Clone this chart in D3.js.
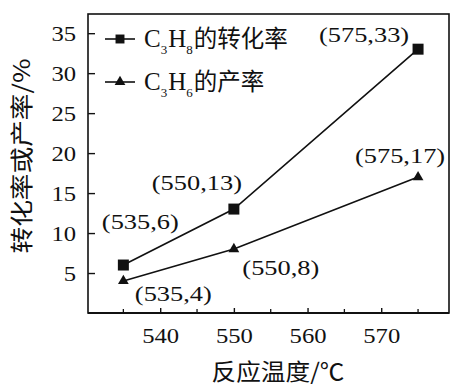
<!DOCTYPE html>
<html><head><meta charset="utf-8">
<script src="https://cdn.jsdelivr.net/npm/d3@7"></script>
<style>body{margin:0;background:#fff}</style>
</head><body>
<svg id="c" width="451" height="386"></svg>
<script>
const temps = [535, 550, 575];
const conversion = [6, 13, 33];   // C3H8 转化率
const yieldC3H6 = [4, 8, 17];     // C3H6 产率
const xTicks = [540, 550, 560, 570];
const xMinorTicks = [535, 540, 545, 550, 555, 560, 565, 570, 575];
const yTicks = [5, 10, 15, 20, 25, 30, 35];
const seriesNames = [["C","3","H","8","的转化率"], ["C","3","H","6","的产率"]];
const xTitle = "反应温度/℃";
const yTitle = "转化率或产率/%";

const LAT = "'Liberation Serif', 'Times New Roman', serif";
const CJK = "'Noto Sans CJK SC', sans-serif";
const svg = d3.select("#c");
const L = 88, R = 449, T = 14, B = 313;
const x = d3.scaleLinear().domain([530.2, 579.2]).range([L, R]);
const y = d3.scaleLinear().domain([0, 37.4]).range([B, T]);

// frame
svg.append("rect").attr("x", L).attr("y", T).attr("width", R - L).attr("height", B - T)
  .attr("fill", "none").attr("stroke", "#111").attr("stroke-width", 1.6);

// x axis
const gx = svg.append("g").attr("transform", `translate(0,${B})`)
  .call(d3.axisBottom(x).tickValues(xTicks).tickSize(-5).tickPadding(14).tickFormat(d3.format("d")));
gx.select(".domain").remove();
gx.selectAll("text").attr("font-family", LAT).attr("font-size", 22).attr("fill", "#111").attr("class","tick-lat");
gx.selectAll("line").attr("stroke", "#111").attr("stroke-width", 1.4);
svg.append("g").selectAll("line").data(xMinorTicks.filter(d => !xTicks.includes(d))).join("line")
  .attr("x1", d => x(d)).attr("x2", d => x(d)).attr("y1", B).attr("y2", B - 4)
  .attr("stroke", "#111").attr("stroke-width", 1.3);
svg.append("line").attr("x1", L).attr("x2", R).attr("y1", B).attr("y2", B).attr("stroke", "#111").attr("stroke-width", 2.2);

// y axis
const gy = svg.append("g").attr("transform", `translate(${L},0)`)
  .call(d3.axisLeft(y).tickValues(yTicks).tickSize(-7).tickPadding(12));
gy.select(".domain").remove();
gy.selectAll("text").attr("font-family", LAT).attr("font-size", 22).attr("fill", "#111").attr("class","tick-lat");
gy.selectAll("line").attr("stroke", "#111").attr("stroke-width", 1.4);

// lines
const line = d3.line().x(d => x(d[0])).y(d => y(d[1]));
const s1 = temps.map((t, i) => [t, conversion[i]]);
const s2 = temps.map((t, i) => [t, yieldC3H6[i]]);
[s1, s2].forEach(s => svg.append("path").attr("d", line(s)).attr("fill", "none")
  .attr("stroke", "#111").attr("stroke-width", 1.6));

const sq = d3.symbol().type(d3.symbolSquare).size(121);
const tri = d3.symbol().type(d3.symbolTriangle).size(50);
svg.append("g").selectAll("path").data(s1).join("path")
  .attr("d", sq).attr("transform", d => `translate(${x(d[0])},${y(d[1])})`).attr("fill", "#111");
svg.append("g").selectAll("path").data(s2).join("path")
  .attr("d", tri).attr("transform", d => `translate(${x(d[0])},${y(d[1])})`).attr("fill", "#111");

// point annotations
const offs1 = [[17, -36], [-37, -19], [-54, -7]];
const offs2 = [[50, 20], [47, 26], [-18, -14]];
function annot(s, offs) {
  svg.append("g").selectAll("text").data(s).join("text")
    .attr("class", "ann-lat")
    .attr("x", (d, i) => x(d[0]) + offs[i][0]).attr("y", (d, i) => y(d[1]) + offs[i][1])
    .attr("text-anchor", "middle").attr("font-family", LAT).attr("font-size", 22).attr("fill", "#111")
    .text(d => `(${d[0]},${d[1]})`);
}
annot(s1, offs1); annot(s2, offs2);

// legend
const legY = [39, 82];
const sqL = d3.symbol().type(d3.symbolSquare).size(80);
seriesNames.forEach((nm, i) => {
  const g = svg.append("g");
  g.append("line").attr("x1", 105).attr("x2", 135).attr("y1", legY[i]).attr("y2", legY[i])
    .attr("stroke", "#111").attr("stroke-width", 1.6);
  g.append("path").attr("d", i === 0 ? sqL : tri).attr("transform", `translate(120,${legY[i]})`).attr("fill", "#111");
  const t = g.append("text").attr("x", 144).attr("y", legY[i] + 8).attr("fill", "#111").attr("font-size", 25);
  t.append("tspan").attr("font-family", LAT).text(nm[0]);
  t.append("tspan").attr("font-family", LAT).attr("font-size", 13).attr("dy", 7).text(nm[1]);
  t.append("tspan").attr("font-family", LAT).attr("dy", -7).attr("dx", 1).text(nm[2]);
  t.append("tspan").attr("font-family", LAT).attr("font-size", 13).attr("dy", 7).text(nm[3]);
  t.append("tspan").attr("font-family", CJK).attr("font-size", 23.5).attr("dy", -7).attr("dx", 1).text(nm[4]);
});

// titles
svg.append("text").attr("x", 278).attr("y", 380).attr("text-anchor", "middle")
  .attr("font-family", CJK).attr("font-size", 23).attr("fill", "#111")
  .attr("textLength", 133).attr("lengthAdjust", "spacingAndGlyphs").text(xTitle);
svg.append("text").attr("transform", "translate(30,156) rotate(-90)").attr("text-anchor", "middle")
  .attr("font-family", CJK).attr("font-size", 23).attr("fill", "#111")
  .attr("textLength", 195).attr("lengthAdjust", "spacingAndGlyphs").text(yTitle);

// widen latin serif text to match reference proportions
function widen(sel, f) {
  svg.selectAll(sel).each(function() {
    const w = this.getComputedTextLength();
    d3.select(this).attr("textLength", w * f).attr("lengthAdjust", "spacingAndGlyphs");
  });
}
widen("text.tick-lat", 1.12);
widen("text.ann-lat", 1.2);
</script>
</body></html>
